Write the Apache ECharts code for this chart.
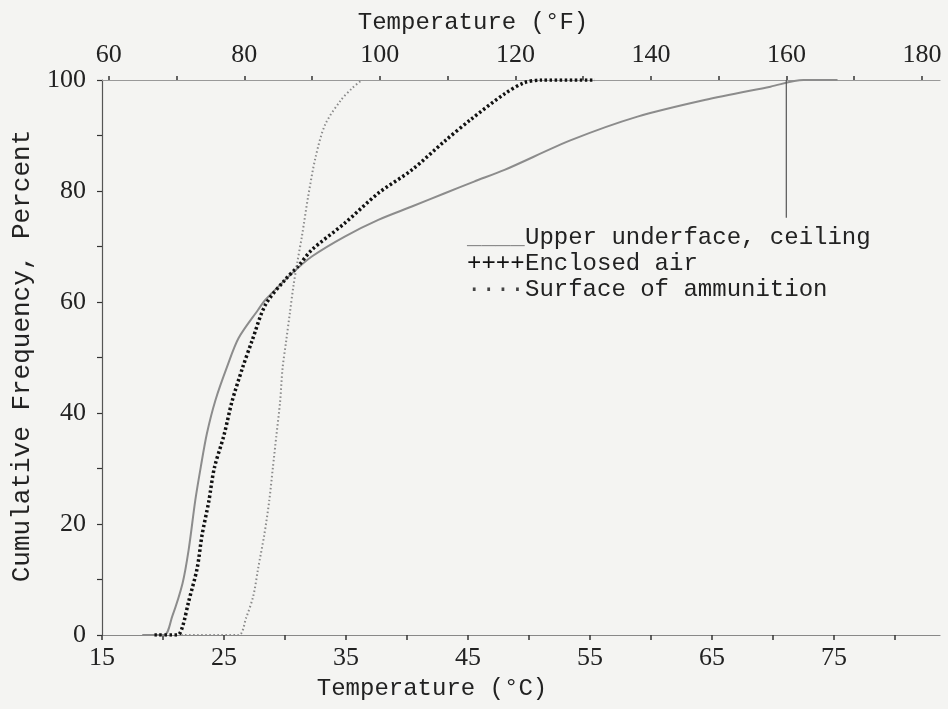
<!DOCTYPE html>
<html>
<head>
<meta charset="utf-8">
<script src="https://cdn.jsdelivr.net/npm/echarts@6/dist/echarts.min.js"></script>
<style>
  html, body { margin: 0; padding: 0; background: #f4f4f2; }
  #chart { width: 948px; height: 709px; }
</style>
</head>
<body>
<div id="chart"></div>
<script>
// upper underface, ceiling (deg C, cumulative %)
const ceilingTemp = [18.3, 20.1, 20.75, 21.6, 22.1, 22.65, 23.1, 23.6, 24.3, 25.25, 26.2, 27.8, 28.4, 30.6, 32.2, 34.9, 37.65, 40.4, 43.1, 45.5, 48.0, 53.5, 58.9, 64.4, 69.8, 72.5, 75.3]
const ceilingPct = [0, 0, 3.3, 9.3, 15.3, 24.3, 30.3, 36.3, 42.3, 48.3, 53.5, 58.6, 60.4, 65.2, 68.2, 71.8, 74.8, 77.2, 79.6, 81.7, 83.8, 89.2, 93.4, 96.4, 98.8, 100, 100]

// enclosed air
const airTemp = [19.3, 21.2, 21.6, 22.1, 22.8, 23.2, 23.75, 24.2, 25.0, 25.65, 26.5, 27.3, 28.4, 30.0, 31.1, 32.2, 34.9, 37.65, 40.4, 43.1, 45.3, 48.0, 49.6, 51.0, 55.4]
const airPct = [0, 0, 1.5, 6, 12, 18, 24, 30, 36, 42, 48, 53, 59.5, 64, 66.5, 69.4, 74.2, 79.6, 83.8, 89, 93, 97.5, 99.5, 100, 100]

// surface of ammunition
const ammoTemp = [21.5, 26.2, 26.8, 27.4, 27.8, 28.3, 28.7, 29.0, 29.3, 29.6, 29.8, 30.1, 30.4, 30.7, 31.0, 31.4, 31.9, 32.5, 33.3, 34.6, 35.5, 36.3]
const ammoPct = [0, 0, 3, 7, 12, 18, 24, 30, 36, 42, 48, 53, 58, 63, 67, 72, 79, 86, 92, 96.4, 98.5, 100]

// leader line from the 160 F tick down to the legend
const leaderTemp = [71.1, 71.1]
const leaderPct = [100, 75.2]

const celsiusTicks = [15, 20, 25, 30, 35, 40, 45, 50, 55, 60, 65, 70, 75, 80]
const celsiusLabels = [15, 25, 35, 45, 55, 65, 75]
const fahrenheitTicks = [60, 70, 80, 90, 100, 110, 120, 130, 140, 150, 160, 170, 180]
const fahrenheitLabels = [60, 80, 100, 120, 140, 160, 180]
const percentTicks = [0, 10, 20, 30, 40, 50, 60, 70, 80, 90, 100]
const percentLabels = [0, 20, 40, 60, 80, 100]

const cMin = 15
const cMax = 83.7

const legendRows = [
  { mark: '____', text: 'Upper underface, ceiling', markColor: '#888' },
  { mark: '++++', text: 'Enclosed air', markColor: '#111' },
  { mark: '····', text: 'Surface of ammunition', markColor: '#444' }
]

const pairs = (xs, ys) => xs.map((x, i) => [x, ys[i]])

const tickFont = { fontFamily: 'Liberation Serif', fontSize: 26, color: '#222' }
const monoFont = '24px "Liberation Mono"'

const chart = echarts.init(document.getElementById('chart'))

const graphic = [
  { type: 'text', x: 473, y: 23, style: { text: 'Temperature (°F)', font: monoFont, fill: '#222', align: 'center', verticalAlign: 'middle' } },
  { type: 'text', x: 432, y: 689, style: { text: 'Temperature (°C)', font: monoFont, fill: '#222', align: 'center', verticalAlign: 'middle' } },
  { type: 'text', x: 22, y: 356, rotation: Math.PI / 2, style: { text: 'Cumulative Frequency, Percent', font: '26px "Liberation Mono"', fill: '#222', align: 'center', verticalAlign: 'middle' } }
]
legendRows.forEach((row, i) => {
  const y = 238 + i * 26
  graphic.push({ type: 'text', x: 467, y: y, style: { text: row.mark, font: monoFont, fill: row.markColor, verticalAlign: 'middle' } })
  graphic.push({ type: 'text', x: 525, y: y, style: { text: row.text, font: monoFont, fill: '#222', verticalAlign: 'middle' } })
})

chart.setOption({
  backgroundColor: '#f4f4f2',
  animation: false,
  grid: { left: 102, right: 8, top: 80, bottom: 74 },
  xAxis: [
    {
      type: 'value',
      position: 'bottom',
      min: cMin,
      max: cMax,
      axisLine: { lineStyle: { color: '#888', width: 1.2 } },
      axisTick: { customValues: celsiusTicks, length: 5, lineStyle: { color: '#333', width: 1.5 } },
      axisLabel: Object.assign({ customValues: celsiusLabels, margin: 10 }, tickFont),
      splitLine: { show: false }
    },
    {
      type: 'value',
      position: 'top',
      min: cMin * 1.8 + 32,
      max: cMax * 1.8 + 32,
      axisLine: { onZero: false, lineStyle: { color: '#999', width: 1.2 } },
      axisTick: { customValues: fahrenheitTicks, length: 4, lineStyle: { color: '#333', width: 1.5 } },
      axisLabel: Object.assign({ customValues: fahrenheitLabels, margin: 12 }, tickFont),
      splitLine: { show: false }
    }
  ],
  yAxis: {
    type: 'value',
    min: 0,
    max: 100,
    axisLine: { show: true, lineStyle: { color: '#555', width: 1.2 } },
    axisTick: { show: true, customValues: percentTicks, length: 5, lineStyle: { color: '#333', width: 1.2 } },
    axisLabel: Object.assign({ customValues: percentLabels, margin: 16 }, tickFont),
    splitLine: { show: false }
  },
  graphic: graphic,
  series: [
    {
      name: 'Upper underface, ceiling',
      type: 'line',
      data: pairs(ceilingTemp, ceilingPct),
      smooth: 0.3,
      showSymbol: false,
      lineStyle: { color: '#8c8c8c', width: 2 }
    },
    {
      name: 'Enclosed air',
      type: 'line',
      data: pairs(airTemp, airPct),
      smooth: 0.3,
      showSymbol: false,
      lineStyle: { color: '#111', width: 3.5, type: [2.5, 2.5] }
    },
    {
      name: 'Surface of ammunition',
      type: 'line',
      data: pairs(ammoTemp, ammoPct),
      smooth: 0.3,
      showSymbol: false,
      lineStyle: { color: '#8a8a8a', width: 2, type: [1.5, 2.5] }
    },
    {
      name: 'leader',
      type: 'line',
      data: pairs(leaderTemp, leaderPct),
      showSymbol: false,
      lineStyle: { color: '#555', width: 1.2 }
    }
  ]
})
</script>
</body>
</html>
